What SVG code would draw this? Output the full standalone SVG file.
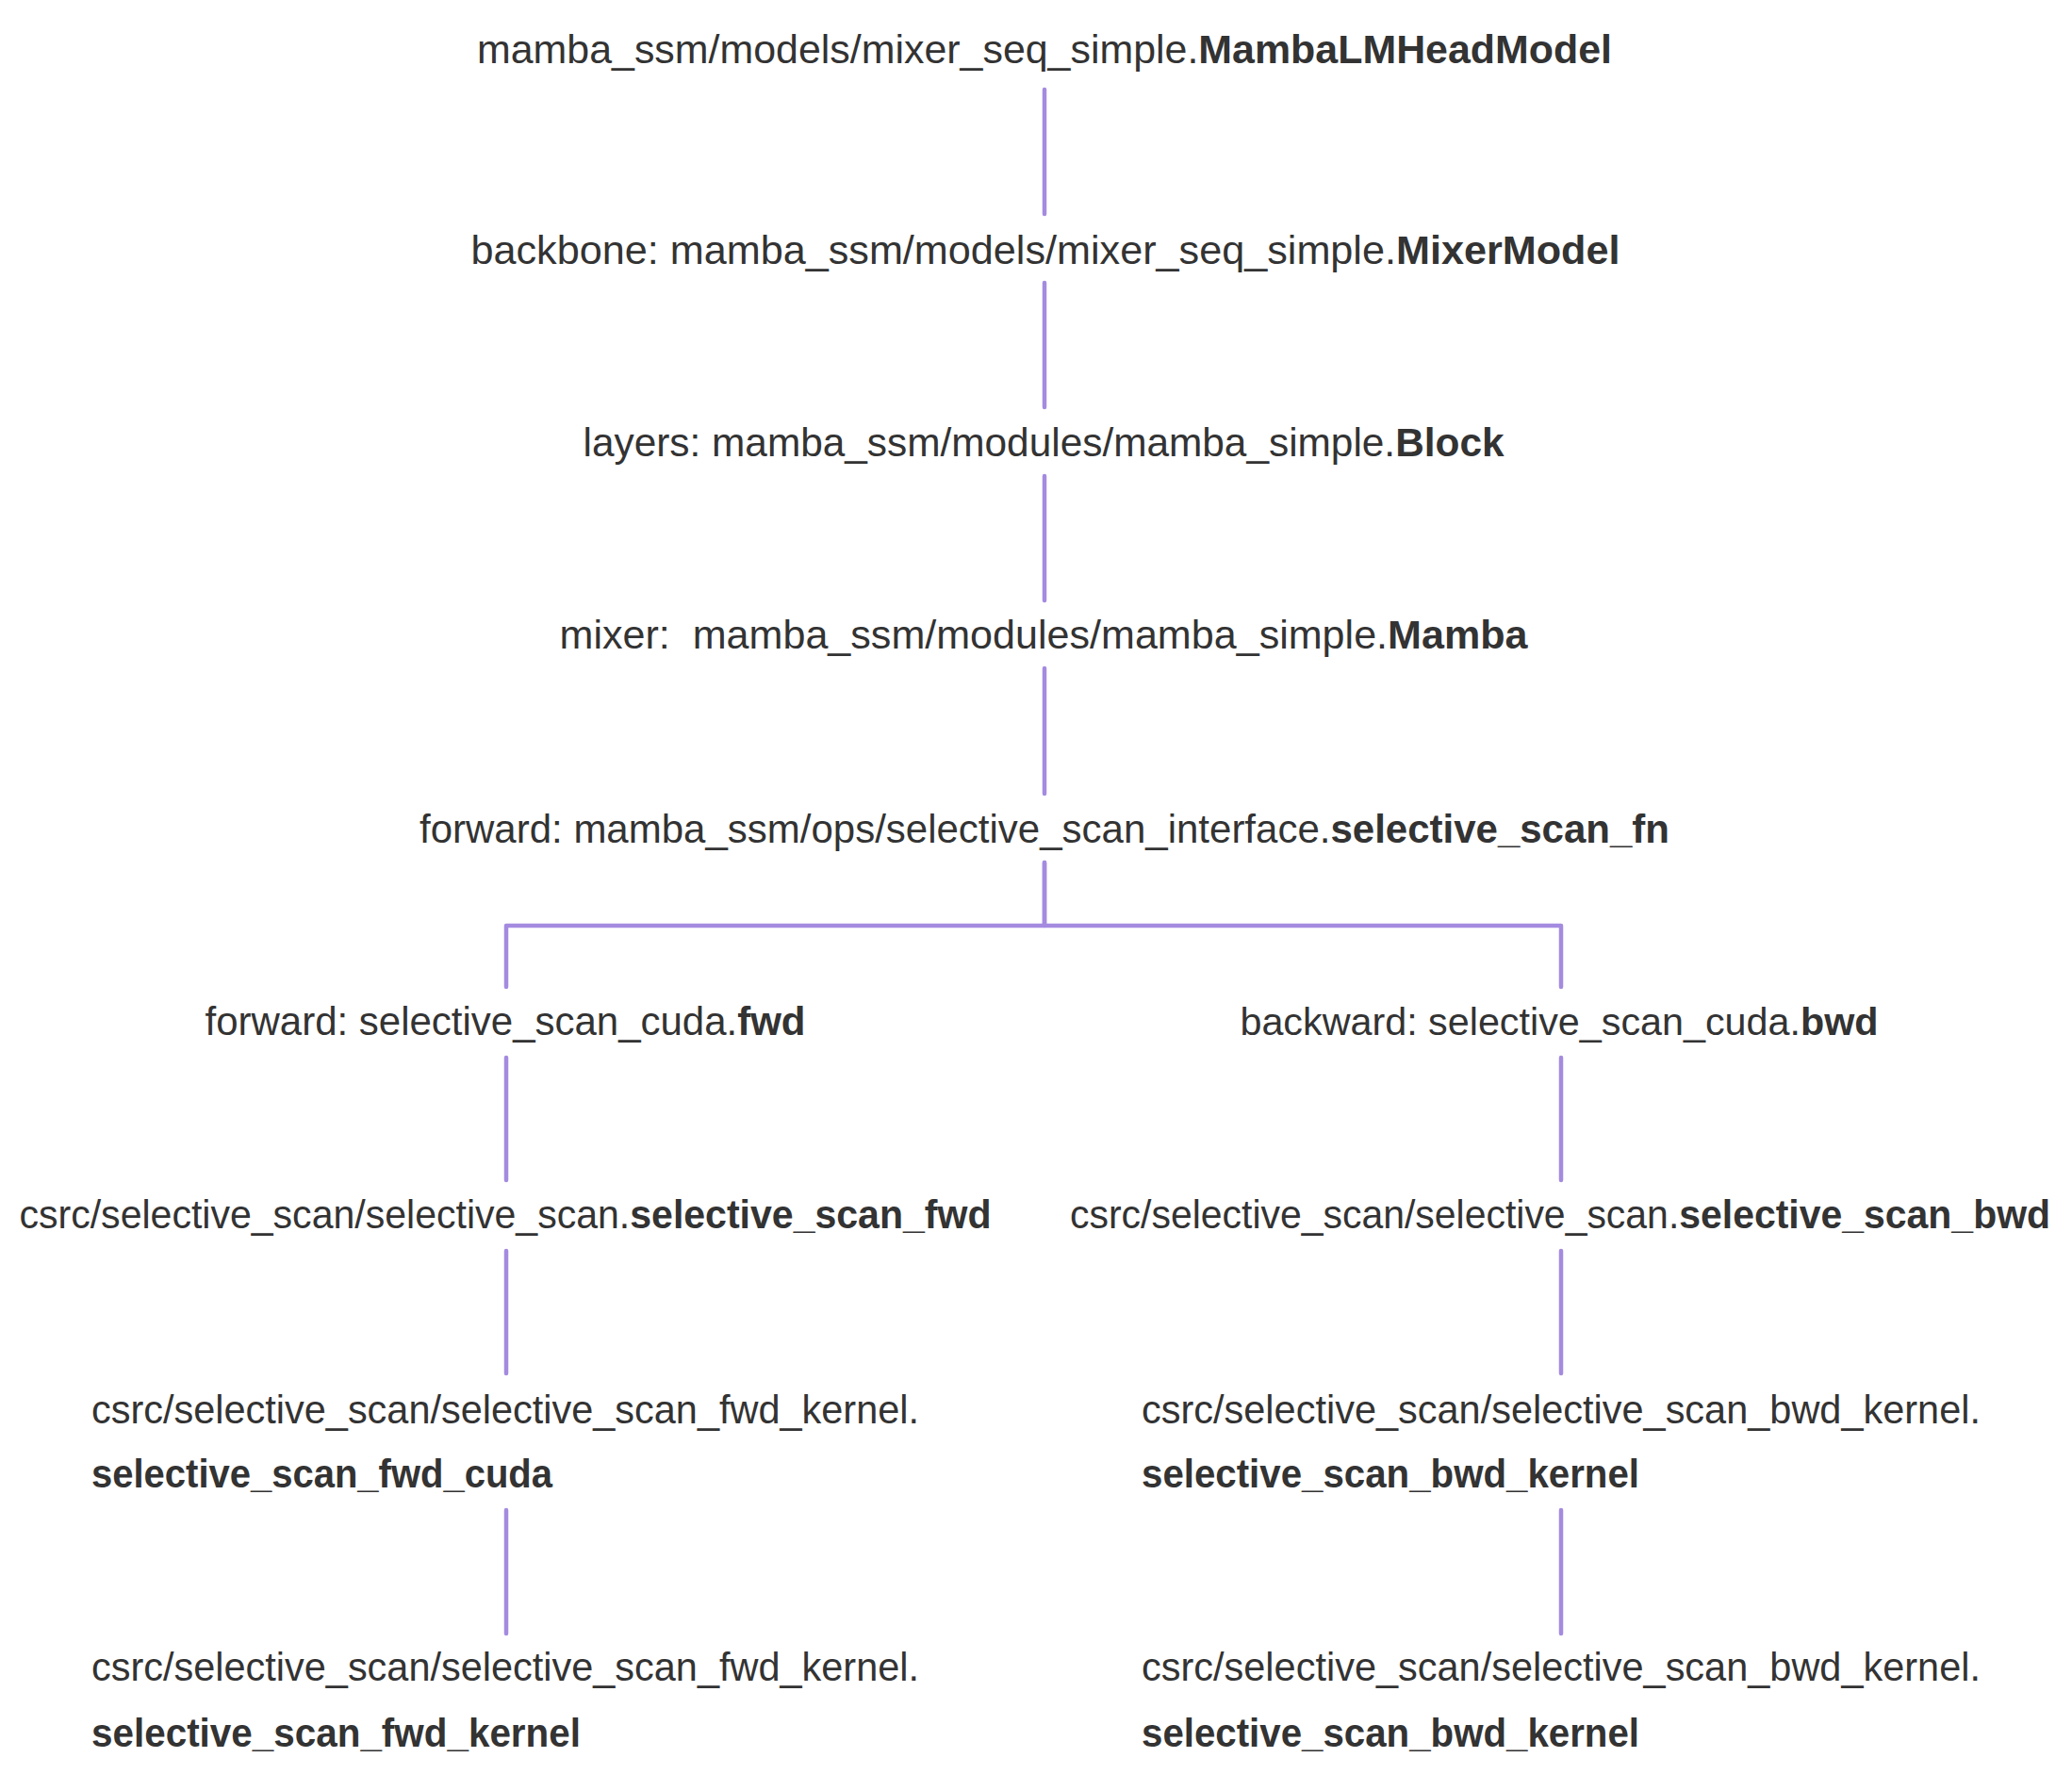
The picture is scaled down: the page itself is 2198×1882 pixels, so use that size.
<svg xmlns="http://www.w3.org/2000/svg" width="2198" height="1882" viewBox="0 0 2198 1882">
<style>
text{font-family:"Liberation Sans",Arial,sans-serif;font-size:42px;fill:#333333}
.c{text-anchor:middle}
.b{font-weight:bold}
.edge{fill:none;stroke:#a48be0;stroke-width:4.5;stroke-linecap:round;stroke-linejoin:round}
</style>
<rect width="2198" height="1882" fill="#ffffff"/>
<g id="edges">
<path class="edge" d="M1108 95V227"/>
<path class="edge" d="M1108 300V432"/>
<path class="edge" d="M1108 505V637"/>
<path class="edge" d="M1108 709V842"/>
<path class="edge" d="M1108 915V982H537V1047"/>
<path class="edge" d="M1108 915V982H1656V1047"/>
<path class="edge" d="M537 1122V1252"/>
<path class="edge" d="M537 1327V1457"/>
<path class="edge" d="M537 1602V1733"/>
<path class="edge" d="M1656 1122V1252"/>
<path class="edge" d="M1656 1327V1457"/>
<path class="edge" d="M1656 1602V1733"/>
</g>
<g id="n1"><text class="c" x="1108" y="67" textLength="1204" lengthAdjust="spacingAndGlyphs">mamba_ssm/models/mixer_seq_simple.<tspan class="b">MambaLMHeadModel</tspan></text></g>
<g id="n2"><text class="c" x="1109" y="280" textLength="1219" lengthAdjust="spacingAndGlyphs">backbone: mamba_ssm/models/mixer_seq_simple.<tspan class="b">MixerModel</tspan></text></g>
<g id="n3"><text class="c" x="1107" y="484" textLength="977" lengthAdjust="spacingAndGlyphs">layers: mamba_ssm/modules/mamba_simple.<tspan class="b">Block</tspan></text></g>
<g id="n4"><text class="c" x="1107" y="688" xml:space="preserve" textLength="1027" lengthAdjust="spacingAndGlyphs">mixer:  mamba_ssm/modules/mamba_simple.<tspan class="b">Mamba</tspan></text></g>
<g id="n5"><text class="c" x="1108" y="894" textLength="1326" lengthAdjust="spacingAndGlyphs">forward: mamba_ssm/ops/selective_scan_interface.<tspan class="b">selective_scan_fn</tspan></text></g>
<g id="n6"><text class="c" x="536" y="1098" textLength="637" lengthAdjust="spacingAndGlyphs">forward: selective_scan_cuda.<tspan class="b">fwd</tspan></text></g>
<g id="n7"><text class="c" x="1654" y="1098" style="font-size:41.3px">backward: selective_scan_cuda.<tspan class="b">bwd</tspan></text></g>
<g id="n8"><text class="c" x="536" y="1303" textLength="1031" lengthAdjust="spacingAndGlyphs">csrc/selective_scan/selective_scan.<tspan class="b">selective_scan_fwd</tspan></text></g>
<g id="n9"><text class="c" x="1655" y="1303" textLength="1040" lengthAdjust="spacingAndGlyphs">csrc/selective_scan/selective_scan.<tspan class="b">selective_scan_bwd</tspan></text></g>
<g id="n10"><text x="97" y="1510" textLength="878" lengthAdjust="spacingAndGlyphs">csrc/selective_scan/selective_scan_fwd_kernel.</text><text class="b" x="97" y="1578" textLength="489" lengthAdjust="spacingAndGlyphs">selective_scan_fwd_cuda</text></g>
<g id="n11"><text x="1211" y="1510" textLength="890" lengthAdjust="spacingAndGlyphs">csrc/selective_scan/selective_scan_bwd_kernel.</text><text class="b" x="1211" y="1578" textLength="528" lengthAdjust="spacingAndGlyphs">selective_scan_bwd_kernel</text></g>
<g id="n12"><text x="97" y="1783" textLength="878" lengthAdjust="spacingAndGlyphs">csrc/selective_scan/selective_scan_fwd_kernel.</text><text class="b" x="97" y="1853" textLength="519" lengthAdjust="spacingAndGlyphs">selective_scan_fwd_kernel</text></g>
<g id="n13"><text x="1211" y="1783" textLength="890" lengthAdjust="spacingAndGlyphs">csrc/selective_scan/selective_scan_bwd_kernel.</text><text class="b" x="1211" y="1853" textLength="528" lengthAdjust="spacingAndGlyphs">selective_scan_bwd_kernel</text></g>
</svg>
